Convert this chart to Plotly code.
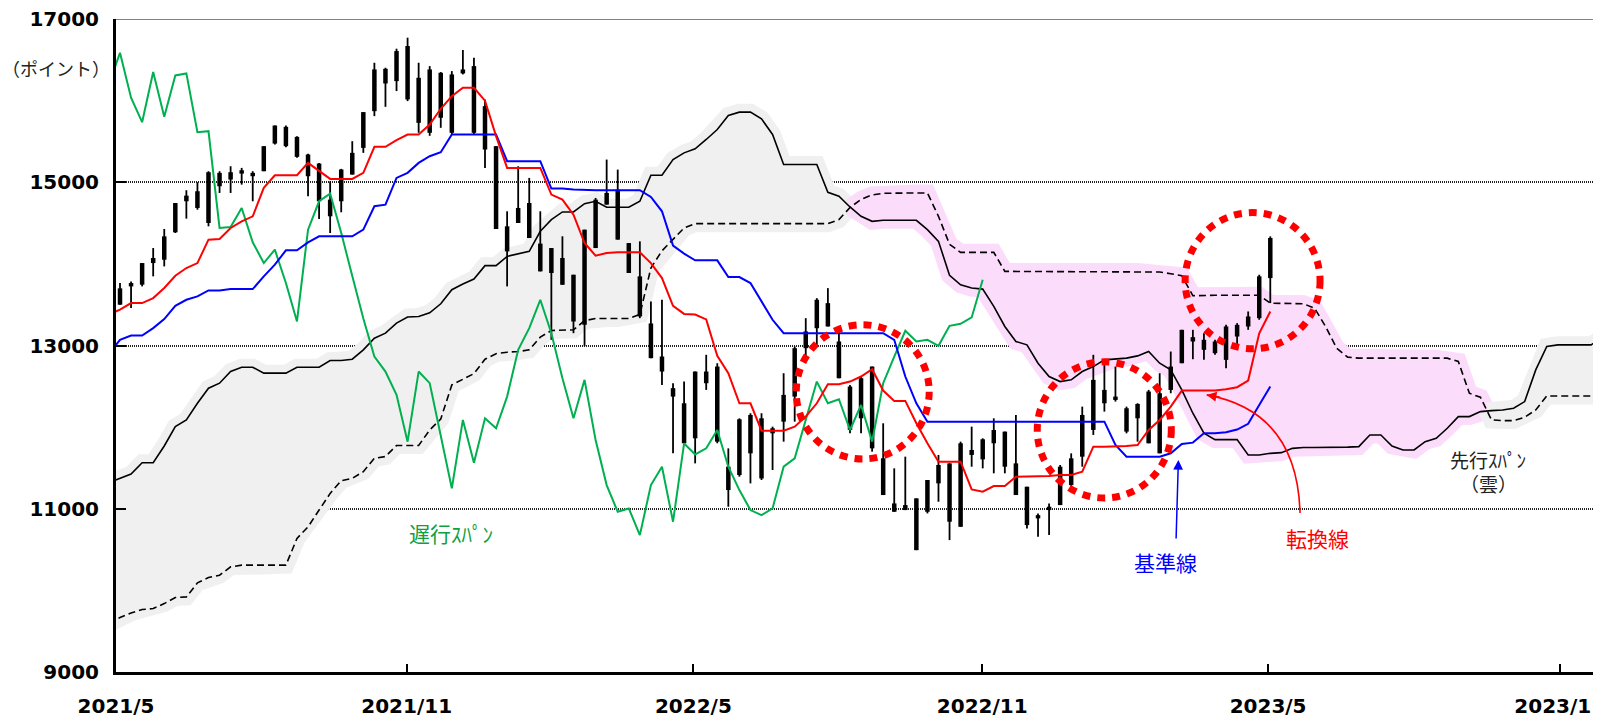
import plotly.graph_objects as go

# ---------------- data (weekly, index 0 = first week of May 2021) ----------------
high = [13765, 13785, 14010, 14194, 14427, 14746, 14902, 15000, 15135, 15135,
        15196, 15176, 15135, 15442, 15695, 15695, 15564, 15348, 15237, 15012,
        15164, 15503, 15859, 16464, 16403, 16636, 16771, 16464, 16423, 16350,
        16362, 16620, 16525, 16014, 15442, 14644, 15196, 15053, 14644, 14194,
        14338, 13867, 14419, 14808, 15278, 15155, 14255, 14276, 13540, 13560,
        12538, 12558, 12681, 12886, 12783, 11740, 12108, 12170, 12170, 12006,
        12660, 12988, 13335, 13580, 13703, 13172, 12517, 12620, 12742, 12047,
        11495, 11638, 11127, 11352, 11659, 11556, 11822, 12006, 11863, 12108,
        11945, 12149, 11270, 10943, 11065, 11536, 11679, 12251, 12886, 12783,
        12742, 12251, 12292, 12456, 12660, 12926, 13192, 13192, 13151, 13070,
        13253, 13274, 13417, 13867, 14337]
low = [13500, 13458, 13724, 13847, 13969, 14378, 14554, 14664, 14460, 14869,
       14869, 14971, 14767, 15135, 15462, 15429, 15299, 14828, 14550, 14378,
       14632, 15094, 15360, 15810, 15924, 16117, 15994, 15606, 15569, 15667,
       15585, 16321, 15585, 15176, 14427, 13724, 14501, 14317, 13908, 13070,
       13744, 13151, 12992, 14194, 14726, 14297, 13888, 13335, 12845, 12517,
       11679, 11802, 11556, 12456, 11802, 11025, 11393, 11311, 11352, 11475,
       11822, 12067, 12865, 12988, 13233, 12599, 11925, 11925, 11699, 11168,
       10963, 10984, 10493, 10943, 11086, 10616, 10779, 11515, 11495, 11434,
       11434, 11168, 10759, 10656, 10677, 11045, 11270, 11515, 11904, 12190,
       12313, 11924, 11822, 11802, 11679, 12415, 12783, 12832, 12824, 12886,
       12722, 12968, 13192, 13315, 13520]
body_hi = [13700, 13765, 14010, 14072, 14337, 14746, 14836, 14890, 15123, 15115,
           15123, 15147, 15115, 15442, 15695, 15679, 15556, 15340, 15229, 14787,
           15156, 15360, 15859, 16382, 16390, 16607, 16669, 16280, 16382, 16341,
           16321, 16382, 16423, 15932, 15442, 14460, 14685, 14746, 14248, 14194,
           14072, 13867, 14419, 14787, 14869, 14910, 14255, 13847, 13270, 12865,
           12477, 12292, 12681, 12681, 12742, 11515, 12096, 12149, 12108, 11986,
           12395, 12967, 13172, 13560, 13519, 13049, 12497, 12599, 12742, 11618,
           11065, 11045, 11127, 11352, 11536, 11556, 11802, 11720, 11851, 11965,
           11945, 11556, 11270, 10922, 11025, 11515, 11618, 12149, 12579, 12456,
           12374, 12231, 12284, 12436, 12415, 12742, 13192, 13102, 13070, 13049,
           13233, 13253, 13356, 13847, 14317]
body_lo = [13500, 13724, 13745, 14010, 14051, 14387, 14767, 14685, 14501, 14951,
           15033, 15106, 15074, 15135, 15474, 15442, 15311, 15074, 14767, 14583,
           14767, 15094, 15421, 15871, 16210, 16239, 16015, 15728, 15606, 15790,
           15606, 16333, 15606, 15401, 14427, 14153, 14501, 14317, 13908, 13888,
           13744, 13294, 13254, 14194, 14726, 14297, 13888, 13356, 12845, 12681,
           12374, 11802, 11863, 12538, 11822, 11229, 11413, 11679, 11372, 11924,
           12067, 12374, 12967, 13212, 13233, 12599, 11966, 12108, 11740, 11168,
           10963, 10984, 10493, 10963, 11311, 10841, 10779, 11659, 11605, 11802,
           11515, 11168, 10800, 10882, 10984, 11045, 11290, 11638, 11966, 12292,
           12333, 11945, 12108, 11802, 11679, 12456, 12783, 13049, 12947, 12906,
           12824, 13110, 13233, 13335, 13826]

# conversion line (転換線), starts at week -1
tenkan = [13380, 13440, 13520, 13520, 13581, 13704, 13855, 13949, 14010, 14297,
          14305, 14440, 14522, 14583, 14931, 15086, 15086, 15086, 15237, 15135,
          15041, 15041, 15041, 15115, 15434, 15434, 15516, 15585, 15585, 15708,
          15900, 16055, 16158, 16158, 16000, 15565, 15176, 15176, 15176, 15176,
          14849, 14787, 14603, 14256, 14100, 14133, 14141, 14141, 14141, 14010,
          13826, 13485, 13387, 13380, 13320, 12873, 12660, 12292, 12292, 11957,
          11957, 11957, 12006, 12129, 12292, 12526, 12526, 12558, 12620, 12710,
          12448, 12321, 12321, 12047, 11802, 11577, 11577, 11577, 11237, 11209,
          11278, 11278, 11393, 11393, 11401, 11401, 11413, 11413, 11454, 11761,
          11761, 11761, 11770, 11781, 11965, 12088, 12251, 12448, 12448, 12448,
          12448, 12464, 12489, 12570, 13150, 13417]
# base line (基準線), starts at week -1
kijun = [12900, 13070, 13123, 13123, 13213, 13323, 13487, 13560, 13601, 13675,
         13675, 13691, 13691, 13691, 13847, 13990, 14166, 14166, 14264, 14337,
         14337, 14337, 14337, 14419, 14706, 14726, 15053, 15115, 15237, 15319,
         15368, 15585, 15585, 15585, 15585, 15585, 15258, 15258, 15258, 15258,
         14922, 14922, 14910, 14902, 14902, 14902, 14902, 14902, 14902, 14820,
         14644, 14223, 14125, 14043, 14043, 14043, 13838, 13838, 13765, 13540,
         13315, 13151, 13151, 13151, 13151, 13151, 13151, 13151, 13151, 13151,
         13151, 13070, 12620, 12292, 12067, 12067, 12067, 12067, 12067, 12067,
         12067, 12067, 12067, 12067, 12067, 12067, 12067, 12067, 12067, 12067,
         12067, 11781, 11638, 11638, 11638, 11638, 11679, 11793, 11810, 11925,
         11925, 11937, 11970, 12040, 12270, 12497]
# lagging span (遅行スパン), starts at week -1
chikou = [16200, 16587, 16035, 15736, 16350, 15802, 16309, 16333, 15613, 15626,
          14440, 14452, 14685, 14264, 14010, 14174, 13765, 13295, 14419, 14767,
          14861, 14380, 13850, 13330, 12865, 12681, 12395, 11822, 12681, 12539,
          11895, 11250, 12088, 11564, 12108, 11986, 12374, 12947, 13213, 13560,
          13150, 12600, 12108, 12579, 11843, 11290, 10963, 11004, 10677, 11290,
          11515, 10841, 11800, 11665, 11740, 11965, 11515, 11229, 10984, 10922,
          11004, 11515, 11618, 12088, 12558, 12292, 12342, 11965, 12272, 11822,
          12538, 12865, 13180, 13049, 13070, 12996, 13241, 13266, 13344, 13806]
# leading spans (先行スパン), start at week -1
span_a = [11320, 11372, 11425, 11564, 11564, 11769, 12006, 12088, 12292, 12477,
          12538, 12681, 12734, 12734, 12661, 12661, 12661, 12734, 12734, 12734,
          12816, 12816, 12832, 12947, 13090, 13151, 13274, 13350, 13356, 13400,
          13511, 13683, 13753, 13814, 13978, 13978, 14092, 14125, 14153, 14399,
          14542, 14636, 14636, 14738, 14767, 14693, 14693, 14693, 14767, 15086,
          15086, 15278, 15360, 15409, 15524, 15646, 15818, 15859, 15859, 15777,
          15585, 15217, 15217, 15217, 15217, 14877, 14828, 14697, 14583, 14521,
          14534, 14534, 14534, 14534, 14419, 14276, 13860, 13744, 13704, 13691,
          13479, 13233, 13049, 13008, 12783, 12620, 12558, 12579, 12681, 12742,
          12824, 12832, 12845, 12873, 12926, 12783, 12701, 12456, 12170, 11925,
          11847, 11847, 11847, 11659, 11659, 11679, 11687, 11740, 11750, 11750,
          11750, 11750, 11755, 11761, 11904, 11904, 11769, 11720, 11720, 11822,
          11863, 11986, 12129, 12129, 12190, 12202, 12210, 12231, 12313, 12701,
          12988, 13008, 13008, 13008, 13008, 13090]
span_b = [9590, 9667, 9724, 9765, 9777, 9838, 9912, 9920, 10092, 10157,
          10186, 10288, 10309, 10309, 10309, 10309, 10309, 10636, 10779, 10984,
          11188, 11344, 11372, 11454, 11618, 11640, 11775, 11775, 11775, 11965,
          12100, 12517, 12583, 12655, 12832, 12900, 12918, 12926, 12947, 13102,
          13184, 13192, 13192, 13305, 13330, 13330, 13330, 13330, 13380, 13950,
          14160, 14300, 14440, 14493, 14493, 14493, 14493, 14493, 14493, 14493,
          14493, 14493, 14493, 14493, 14493, 14493, 14542, 14690, 14790, 14845,
          14865, 14869, 14869, 14869, 14869, 14583, 14240, 14141, 14141, 14141,
          14141, 13908, 13908, 13908, 13908, 13908, 13908, 13908, 13908, 13908,
          13908, 13908, 13908, 13908, 13908, 13900, 13880, 13855, 13610, 13615,
          13615, 13615, 13615, 13615, 13615, 13519, 13519, 13519, 13511, 13458,
          13233, 12967, 12857, 12845, 12845, 12845, 12845, 12845, 12845, 12845,
          12845, 12845, 12804, 12415, 12366, 12088, 12080, 12080, 12121, 12210,
          12382, 12382, 12382, 12382, 12382, 12382]

tick_text = ["2021/5", "2021/11", "2022/5", "2022/11", "2023/5", "2023/11"]
y_ticks = [9000, 11000, 13000, 15000, 17000]

# ---------------- layout constants ----------------
tick_pos = [-0.36, 25.92, 51.84, 77.96, 103.8, 130.17]
GRAY = "#f0f0f0"
PINK = "#fcdcfb"
GREEN = "#00b050"
JP = "Noto Sans CJK JP"

fig = go.Figure()

# ---- cloud (split where spans cross) ----
xs_span = list(range(-1, -1 + len(span_a)))
regions = []
cx, ca, cb = [xs_span[0]], [span_a[0]], [span_b[0]]
sign = span_a[0] >= span_b[0]
for i in range(1, len(xs_span)):
    s = span_a[i] >= span_b[i]
    if s != sign:
        d0 = span_a[i - 1] - span_b[i - 1]
        d1 = span_a[i] - span_b[i]
        t = d0 / (d0 - d1)
        xc = xs_span[i - 1] + t * (xs_span[i] - xs_span[i - 1])
        yc = span_a[i - 1] + t * (span_a[i] - span_a[i - 1])
        cx.append(xc); ca.append(yc); cb.append(yc)
        regions.append((sign, cx, ca, cb))
        cx, ca, cb = [xc], [yc], [yc]
        sign = s
    cx.append(xs_span[i]); ca.append(span_a[i]); cb.append(span_b[i])
regions.append((sign, cx, ca, cb))

for up, rx, ra, rb in regions:
    col = GRAY if up else PINK
    fig.add_trace(go.Scatter(x=rx + rx[::-1], y=ra + rb[::-1], mode="lines",
                             fill="toself", fillcolor=col,
                             line=dict(color=col, width=17),
                             hoverinfo="skip", showlegend=False))

fig.add_trace(go.Scatter(x=xs_span, y=span_b, mode="lines",
                         line=dict(color="black", width=1.6, dash="7px,4px"),
                         hoverinfo="skip", showlegend=False))
fig.add_trace(go.Scatter(x=xs_span, y=span_a, mode="lines",
                         line=dict(color="black", width=1.6),
                         hoverinfo="skip", showlegend=False))

# ---- candles ----
wx, wy, bx, by = [], [], [], []
for i in range(len(high)):
    wx += [i, i, None]
    wy += [low[i], high[i], None]
    bx += [i, i, None]
    by += [body_lo[i], body_hi[i], None]
fig.add_trace(go.Scatter(x=wx, y=wy, mode="lines", line=dict(color="black", width=1.8),
                         hoverinfo="skip", showlegend=False))
fig.add_trace(go.Scatter(x=bx, y=by, mode="lines", line=dict(color="black", width=4.5),
                         hoverinfo="skip", showlegend=False))

# ---- ichimoku lines ----
fig.add_trace(go.Scatter(x=list(range(-1, -1 + len(chikou))), y=chikou, mode="lines",
                         line=dict(color=GREEN, width=2), hoverinfo="skip", showlegend=False))
fig.add_trace(go.Scatter(x=list(range(-1, -1 + len(kijun))), y=kijun, mode="lines",
                         line=dict(color="#0000ff", width=2), hoverinfo="skip", showlegend=False))
fig.add_trace(go.Scatter(x=list(range(-1, -1 + len(tenkan))), y=tenkan, mode="lines",
                         line=dict(color="#ff0000", width=2), hoverinfo="skip", showlegend=False))

# ---- shapes ----
shapes = [
    dict(type="line", xref="paper", yref="y", x0=0, x1=1, y0=17000, y1=17000,
         line=dict(color="#808080", width=2), layer="above"),
]
for (x0, x1, y0, y1) in [(61.14, 73.16, 11610, 13254),
                         (82.93, 95.05, 11132, 12800),
                         (96.3, 108.5, 12960, 14628)]:
    shapes.append(dict(type="circle", xref="x", yref="y", x0=x0, x1=x1, y0=y0, y1=y1,
                       line=dict(color="#ff0000", width=7, dash="8px,7px"), layer="above"))
shapes.append(dict(type="path", xref="x", yref="y",
                   path="M 106.69,10947 C 106.51,11843 103.25,12272 98.25,12395",
                   line=dict(color="#ff0000", width=1.6), layer="above"))

annotations = [
    dict(x=98.25, y=12395, ax=99.6, ay=12362, axref="x", ayref="y", xref="x", yref="y",
         text="", showarrow=True, arrowhead=2, arrowsize=1.3, arrowwidth=1.5,
         arrowcolor="#ff0000"),
    dict(x=95.69, y=11598, ax=95.48, ay=10616, axref="x", ayref="y", xref="x", yref="y",
         text="", showarrow=True, arrowhead=2, arrowsize=1.3, arrowwidth=1.5,
         arrowcolor="#0000ff"),
    dict(x=29.93, y=10702, xref="x", yref="y", text="遅行ｽﾊﾟﾝ", showarrow=False,
         font=dict(family=JP, size=21, color="#10a040")),
    dict(x=94.5, y=10346, xref="x", yref="y", text="基準線", showarrow=False,
         font=dict(family=JP, size=21, color="#0000ff")),
    dict(x=108.3, y=10640, xref="x", yref="y", text="転換線", showarrow=False,
         font=dict(family=JP, size=21, color="#ff0000")),
    dict(x=123.7, y=11600, xref="x", yref="y", text="先行ｽﾊﾟﾝ", showarrow=False,
         font=dict(family=JP, size=19, color="#222222")),
    dict(x=123.7, y=11310, xref="x", yref="y", text="（雲）", showarrow=False,
         font=dict(family=JP, size=19, color="#222222")),
    dict(x=-0.0404, y=0.925, xref="paper", yref="paper", xanchor="center", yanchor="middle",
         text="（ポイント）", showarrow=False,
         font=dict(family=JP, size=18, color="#222222")),
]

# the page body adds an 8 px offset, so the margins are reduced by 8 px
fig.update_layout(
    width=1601, height=716,
    margin=dict(l=108, r=8, t=11, b=52),
    plot_bgcolor="white", paper_bgcolor="white",
    showlegend=False,
    shapes=shapes, annotations=annotations,
    xaxis=dict(range=[-0.362, 133.9], tickmode="array", tickvals=tick_pos, ticktext=tick_text,
               ticks="inside", ticklen=8, tickwidth=2, tickcolor="black",
               showline=True, linecolor="black", linewidth=3,
               showgrid=False, zeroline=False, automargin=False,
               ticklabelstandoff=14, ticklabeloverflow="allow",
               tickfont=dict(family="DejaVu Sans", size=20, color="black", weight="bold")),
    yaxis=dict(range=[9000, 17000], tickmode="array", tickvals=y_ticks,
               ticktext=[str(v) for v in y_ticks],
               ticks="inside", ticklen=10, tickwidth=2, tickcolor="black",
               showline=True, linecolor="black", linewidth=3,
               showgrid=True, gridcolor="#222222", gridwidth=1.5, griddash="1px,1px",
               zeroline=False, automargin=False, ticklabelstandoff=10,
               ticklabeloverflow="allow",
               tickfont=dict(family="DejaVu Sans", size=20, color="black", weight="bold")),
)

fig.write_html("out.html")
